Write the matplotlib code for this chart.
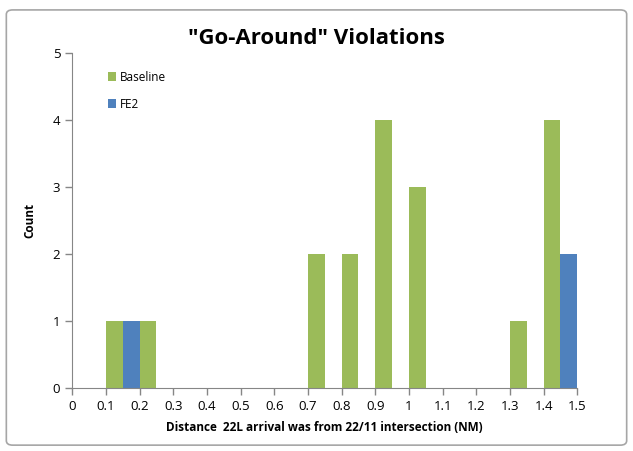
import matplotlib.pyplot as plt
import numpy as np
from matplotlib.patches import FancyBboxPatch

## data
base_x = [0.1, 0.2, 0.7, 0.8, 0.9, 1.0, 1.3, 1.4]
base_count = [1, 1, 2, 2, 4, 3, 1, 4]
fe2_x = [0.15, 1.45]
fe2_count = [1, 2]
xticks = np.round(np.arange(0, 1.51, 0.1), 1)
xticklabels = ['%g' % t for t in xticks]

plt.rcParams['font.family'] = ['Open Sans', 'DejaVu Sans']

fig = plt.figure(figsize=(6.33, 4.51), dpi=100)
ax = fig.add_axes([0.114, 0.140, 0.798, 0.742])

# chart border like the excel frame
fig.patches.append(FancyBboxPatch((0.010, 0.013), 0.980, 0.965, boxstyle='round,pad=0,rounding_size=0.01',
                                  transform=fig.transFigure, fill=False, edgecolor='#a6a6a6', linewidth=1.2))

ax.bar(base_x, base_count, width=0.05, align='edge', color='#9BBB59', linewidth=0, label='Baseline')
ax.bar(fe2_x, fe2_count, width=0.05, align='edge', color='#4F81BD', linewidth=0, label='FE2')

ax.set_xlim(0, 1.5)
ax.set_ylim(0, 5)
ax.set_xticks(xticks)
ax.set_xticklabels(xticklabels)
ax.set_yticks(range(6))
ax.tick_params(axis='both', colors='#868686', labelcolor='black', labelsize=9.5, length=5, width=1)
for s in ['top', 'right']:
    ax.spines[s].set_visible(False)
for s in ['left', 'bottom']:
    ax.spines[s].set_color('#868686')

ax.set_xlabel('Distance  22L arrival was from 22/11 intersection (NM)', fontsize=8.5, fontweight='bold', labelpad=6)
ax.set_ylabel('Count', fontsize=8.5, fontweight='bold', labelpad=12)
fig.text(0.5, 0.915, '"Go-Around" Violations', ha='center', va='center', fontsize=16, fontweight='bold')

ax.legend(loc='upper left', bbox_to_anchor=(0.05, 0.98), frameon=False, fontsize=8.5,
          handlelength=0.7, handleheight=0.7, labelspacing=1.2, handletextpad=0.3)

plt.savefig('out.png', dpi=100)
